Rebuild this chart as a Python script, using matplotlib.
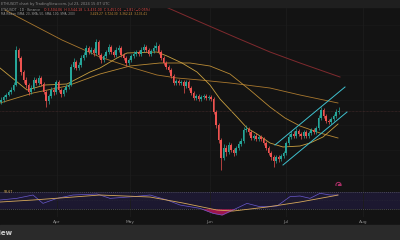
import numpy as np
import matplotlib
matplotlib.use("Agg")
import matplotlib.pyplot as plt

# daily closes (price units)
closes = [3000, 3030, 3050, 3080, 3100, 3150, 3500, 3420, 3280, 3200,
          3150, 3080, 3120, 3200, 3170, 3220, 3160, 3080, 2990, 3040,
          3100, 3080, 3180, 3100, 3060, 3100, 3130, 3150, 3330, 3380,
          3320, 3350, 3420, 3450, 3520, 3480, 3500, 3470, 3580, 3450,
          3400, 3440, 3480, 3530, 3480, 3450, 3500, 3520, 3450, 3420,
          3370, 3400, 3440, 3460, 3480, 3460, 3500, 3530, 3500, 3460,
          3490, 3520, 3540, 3480, 3420, 3370, 3330, 3300, 3240, 3170,
          3190, 3170, 3180, 3140, 3180, 3120, 3070, 3020, 3040, 3010,
          3030, 3040, 3020, 3030, 3010, 2880, 2750, 2600, 2420, 2520,
          2480, 2550, 2500, 2470, 2520, 2560, 2590, 2700, 2710, 2680,
          2620, 2640, 2610, 2630, 2610, 2570, 2520, 2470, 2430, 2390,
          2430, 2410, 2440, 2470, 2570, 2630, 2660, 2640, 2690, 2660,
          2640, 2680, 2640, 2670, 2700, 2680, 2720, 2820, 2900, 2840,
          2790, 2780, 2810, 2840, 2880, 2890]
highs = [3030, 3050, 3070, 3100, 3130, 3180, 3540, 3520, 3440, 3300,
         3230, 3170, 3150, 3230, 3220, 3250, 3240, 3180, 3100, 3060,
         3130, 3130, 3200, 3200, 3120, 3120, 3160, 3180, 3360, 3420,
         3400, 3380, 3450, 3480, 3550, 3540, 3530, 3520, 3610, 3600,
         3470, 3460, 3500, 3560, 3550, 3500, 3530, 3550, 3540, 3470,
         3440, 3420, 3460, 3490, 3500, 3500, 3530, 3560, 3550, 3520,
         3510, 3550, 3580, 3560, 3500, 3440, 3390, 3350, 3320, 3260,
         3210, 3210, 3200, 3200, 3200, 3200, 3140, 3090, 3060, 3060,
         3050, 3060, 3060, 3050, 3050, 3030, 2900, 2770, 2620, 2560,
         2550, 2580, 2570, 2520, 2540, 2590, 2620, 2730, 2750, 2730,
         2700, 2660, 2670, 2650, 2650, 2630, 2590, 2540, 2490, 2450,
         2450, 2450, 2460, 2490, 2590, 2660, 2690, 2690, 2720, 2710,
         2680, 2700, 2700, 2690, 2720, 2720, 2740, 2850, 2930, 2920,
         2860, 2810, 2830, 2860, 2910, 2930]
lows = [2960, 2980, 3010, 3040, 3060, 3090, 3140, 3390, 3250, 3170,
        3120, 3050, 3060, 3100, 3150, 3150, 3140, 3060, 2930, 2960,
        3020, 3050, 3060, 3080, 3030, 3040, 3080, 3110, 3140, 3310,
        3300, 3300, 3330, 3400, 3430, 3460, 3460, 3440, 3450, 3420,
        3370, 3380, 3420, 3460, 3460, 3430, 3430, 3480, 3430, 3400,
        3340, 3350, 3380, 3420, 3440, 3440, 3440, 3480, 3480, 3440,
        3440, 3470, 3500, 3460, 3400, 3350, 3310, 3280, 3220, 3150,
        3150, 3150, 3150, 3070, 3120, 3100, 3050, 3000, 3000, 2990,
        2990, 3010, 3000, 3000, 2990, 2860, 2720, 2570, 2300, 2400,
        2440, 2460, 2480, 2440, 2450, 2500, 2540, 2570, 2680, 2650,
        2600, 2600, 2590, 2590, 2590, 2550, 2500, 2450, 2400, 2330,
        2370, 2380, 2390, 2420, 2450, 2550, 2610, 2620, 2620, 2640,
        2610, 2620, 2620, 2620, 2650, 2660, 2660, 2700, 2800, 2820,
        2770, 2760, 2760, 2790, 2820, 2860]
opens = [2980] + closes[:-1]

# moving average ribbon, read as (day index, price) points
ma20_x = [-0.4, 10.4, 17.6, 26.4, 35.6, 39.6, 46.4, 50.4, 62.4, 66.4, 72.4, 78.4,
          83.6, 87.6, 94.4, 98.4, 102.4, 107.6, 112.8, 119.6, 123.6, 128.8, 134.8]
ma20_y = [3320, 3100, 3150, 3160, 3280, 3320, 3420, 3470, 3480, 3440, 3370, 3280,
          3150, 3010, 2830, 2720, 2660, 2570, 2530, 2540, 2570, 2630, 2760]
ma50_x = [-0.4, 12.8, 26.4, 39.6, 51.6, 63.6, 75.6, 83.6, 91.6, 99.6, 107.6,
          113.6, 119.6, 127.6, 134.8]
ma50_y = [2970, 3070, 3140, 3260, 3340, 3370, 3370, 3340, 3260, 3100, 2930,
          2820, 2740, 2670, 2620]
ma100_x = [1.6, 6.8, 24.4, 39.6, 51.6, 62.4, 70.4, 79.6, 91.6, 107.6, 119.6, 134.8]
ma100_y = [3900, 3830, 3600, 3430, 3330, 3250, 3220, 3200, 3170, 3120, 3050, 2970]
ma200_x = [51.6, 59.6, 79.6, 94.4, 107.6, 119.6, 135.6]
ma200_y = [4080, 4000, 3780, 3620, 3480, 3370, 3230]

# trend channel
chan_up_x = [109.6, 137.6]
chan_up_y = [2550, 3130]
chan_lo_x = [112.8, 138.4]
chan_lo_y = [2350, 2880]

# RSI pane
rsi_x = [-0.4, 6.3, 12.8, 16.8, 22.4, 28.8, 38.4, 43.6, 52.8, 59.6, 66.4, 71.6,
         79.6, 84.8, 88.4, 92.8, 98.4, 103.6, 110.4, 115.6, 119.6, 123.6, 127.6,
         131.6, 134.8]
rsi_v = [50.8, 54.8, 62.8, 42.8, 54.8, 62.8, 65.2, 54.8, 58.8, 62.8, 50.8, 38.8,
         30.8, 18.9, 14.8, 26.8, 42.8, 34.7, 36.4, 58.8, 60.4, 54.8, 66.9, 62.8, 62.8]
rsima_x = [-0.4, 12.8, 39.6, 59.6, 72.8, 86.4, 92.8, 106.4, 119.6, 132.8, 134.8]
rsima_v = [46, 50.8, 62.8, 58, 43.6, 26.8, 24.4, 34, 46, 60.4, 62.8]

month_pos = [22.4, 51.6, 83.6, 114, 144.8]
month_lbl = ["Apr", "May", "Jun", "Jul", "Aug"]

bg = "#131313"
up_c, dn_c = "#26a69a", "#ef5350"

fig = plt.figure(figsize=(4, 2.4), dpi=100)
fig.patch.set_facecolor(bg)

# top and bottom bars
fig.patches.append(plt.Rectangle((0, 233 / 240), 1, 7 / 240, transform=fig.transFigure,
                                 color="#1f1f1f", zorder=0))
fig.patches.append(plt.Rectangle((0, 0), 1, 15 / 240, transform=fig.transFigure,
                                 color="#2a2a2a", zorder=0))

ax = fig.add_axes([0, 54 / 240, 1, 179 / 240])
ax.set_facecolor(bg)
ax.set_xlim(-0.4, 159.6)
ax.set_ylim(2140, 3930)
for s in ax.spines.values():
    s.set_visible(False)
ax.set_xticks([])
ax.set_yticks([])
for p in range(2250, 3900, 250):
    ax.axhline(p, color="#1a1a1a", lw=0.5, zorder=0)
for m in month_pos:
    ax.axvline(m, color="#1c1c1c", lw=0.6, zorder=0)

idx = np.arange(len(closes))
cols = [up_c if c >= o else dn_c for o, c in zip(opens, closes)]
ax.vlines(idx, lows, highs, colors=cols, lw=0.5, zorder=2)
bot = np.minimum(opens, closes)
hgt = np.maximum(np.abs(np.array(closes) - np.array(opens)), 6)
ax.bar(idx, hgt, bottom=bot, width=0.72, color=cols, lw=0, zorder=3)

ax.plot(ma200_x, ma200_y, color="#7f2a2e", lw=0.7, zorder=1)
ax.plot(ma100_x, ma100_y, color="#a8772e", lw=0.6, zorder=1)
ax.plot(ma50_x, ma50_y, color="#b98a35", lw=0.6, zorder=1)
ax.plot(ma20_x, ma20_y, color="#c9a040", lw=0.6, zorder=1)
ax.plot(chan_up_x, chan_up_y, color="#3fc1cf", lw=0.7, zorder=4)
ax.plot(chan_lo_x, chan_lo_y, color="#3fc1cf", lw=0.7, zorder=4)
ax.axhline(closes[-1], color="#4a2d2d", lw=0.5, ls=(0, (1, 1)), zorder=1)
ax.scatter([135], [2150], s=14, facecolors="none", edgecolors="#b0306a", lw=0.7, zorder=5)
ax.scatter([135], [2150], s=2, color="#b0306a", zorder=5)

# header texts
fig.text(0.003, 236.5 / 240, "ETHUSDT chart by TradingView.com, Jul 23, 2024 15:07 UTC",
         color="#8a8a8a", fontsize=2.6, va="center")
fig.text(0.003, 230 / 240, "ETHUSDT · 1D · Binance", color="#9a9a9a", fontsize=2.3, va="center")
fig.text(0.11, 230 / 240, "O 3,504.06  H 3,544.18  L 3,431.00  C 3,451.01  −1.81 (−0.05%)",
         color="#e04a48", fontsize=2.3, va="center")
fig.text(0.003, 226 / 240, "MA Ribbon (SMA, 20, SMA, 50, SMA, 100, SMA, 200)", color="#9a9a9a",
         fontsize=2.1, va="center")
fig.text(0.225, 226 / 240, "3,429.27  3,724.30  3,362.24  3,135.41", color="#c9903a",
         fontsize=2.1, va="center")

# RSI pane
ra = fig.add_axes([0, 23 / 240, 1, 31 / 240])
ra.set_facecolor(bg)
ra.set_xlim(-0.4, 159.6)
ra.set_ylim(10.1, 84.4)
for s in ra.spines.values():
    s.set_visible(False)
ra.set_yticks([])
ra.axhspan(30, 70, color="#1c1830", lw=0, zorder=0)
for lv in (30, 70):
    ra.axhline(lv, color="#5a5a66", lw=0.5, ls=(0, (1.5, 1.5)), zorder=1)
ra.axhline(50, color="#2a2838", lw=0.4, ls=(0, (1.5, 1.5)), zorder=1)
for m in month_pos:
    ra.axvline(m, color="#1c1c1c", lw=0.6, zorder=0)
ra.plot(rsi_x, rsi_v, color="#6a5acd", lw=0.5, zorder=3)
ra.plot(rsima_x, rsima_v, color="#d6a85a", lw=0.6, zorder=3)
rv = np.array(rsi_v)
ra.fill_between(rsi_x, rv, 30, where=rv < 30, interpolate=True, color="#c2185b", alpha=0.8, lw=0, zorder=2)
ra.text(1, 70, "58.67", color="#d6a85a", fontsize=2.3, va="center", zorder=4)
ra.set_xticks(month_pos)
ra.set_xticklabels(month_lbl)
ra.tick_params(axis="x", length=0, pad=2.0, labelsize=3.2, colors="#8a8a8a")

fig.text(0.033, 7.5 / 240, "TradingView", color="#d0d0d0", fontsize=5, va="center", ha="right",
         fontweight="bold")

fig.savefig("out.png", dpi=100, facecolor=bg)
